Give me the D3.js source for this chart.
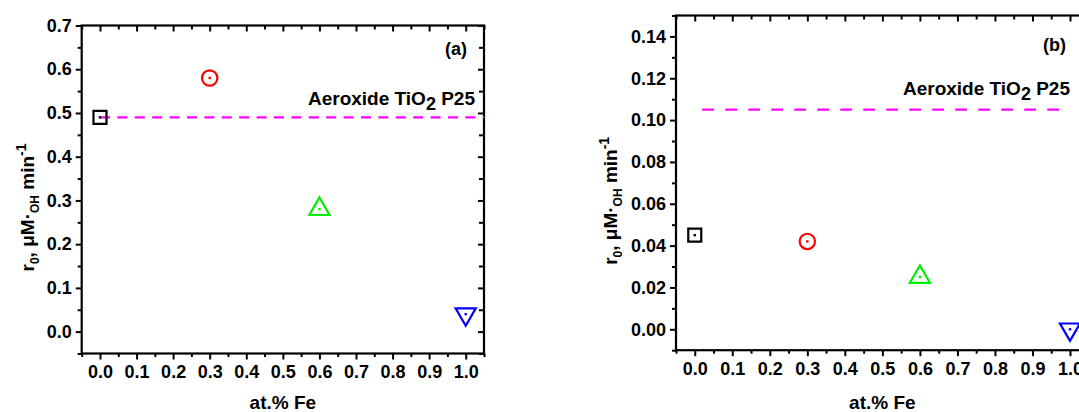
<!DOCTYPE html>
<html>
<head>
<meta charset="utf-8">
<script src="https://cdn.jsdelivr.net/npm/d3@7"></script>
<style>
  html, body { margin: 0; padding: 0; background: #fff; }
  svg { display: block; }
  text { font-family: "Liberation Sans", Arial, Helvetica, sans-serif; font-weight: bold; fill: #000; }
</style>
</head>
<body>
<svg id="chart" width="1079" height="412"></svg>
<script>
// ---------------- data ----------------
const feContent = [0.0, 0.3, 0.6, 1.0];           // at.% Fe
const r0PanelA = [0.49, 0.58, 0.28, 0.04];        // panel (a)
const r0PanelB = [0.045, 0.042, 0.025, 0.0];      // panel (b)
const p25PanelA = 0.49;                           // Aeroxide TiO2 P25 reference, (a)
const p25PanelB = 0.105;                          // Aeroxide TiO2 P25 reference, (b)
const xTickValues = [0.0, 0.1, 0.2, 0.3, 0.4, 0.5, 0.6, 0.7, 0.8, 0.9, 1.0];
const yTicksA = [0.0, 0.1, 0.2, 0.3, 0.4, 0.5, 0.6, 0.7];
const yTicksB = [0.00, 0.02, 0.04, 0.06, 0.08, 0.10, 0.12, 0.14];
const markerShapes = ["square", "circle", "triangle", "triangleDown"];
const markerColors = ["#000000", "#ff0000", "#00ee00", "#0000ff"];
const refLineColor = "#ff00ff";

const svg = d3.select("#chart");

const panels = [
  {
    label: "(a)", values: r0PanelA, ref: p25PanelA, refSpan: [0.0, 1.05],
    xDomain: [-0.05, 1.05], xRange: [81.7, 484],
    yDomain: [-0.05, 0.7], yRange: [353.5, 25.5],
    yTicks: yTicksA, yMinorStep: 0.05, yFmt: d3.format(".1f"),
    dash: "10,7.4", refTextRight: 475, refTextDy: -12, panelLabelRight: 467, panelLabelBase: 55,
    yTitleX: 34
  },
  {
    label: "(b)", values: r0PanelB, ref: p25PanelB, refSpan: [0.02, 0.98],
    xDomain: [-0.05, 1.05], xRange: [676, 1088.75],
    yDomain: [-0.01, 0.15], yRange: [350.2, 15.5],
    yTicks: yTicksB, yMinorStep: 0.01, yFmt: d3.format(".2f"),
    dash: "11.7,11.3", refTextRight: 1070, refTextDy: -15, panelLabelRight: 1066, panelLabelBase: 51,
    yTitleX: 617
  }
];

function minorTicks(domain, step) {
  const out = [];
  const n0 = Math.ceil(domain[0] / step - 1e-9), n1 = Math.floor(domain[1] / step + 1e-9);
  for (let i = n0; i <= n1; i++) out.push(+(i * step).toFixed(6));
  return out;
}

panels.forEach(p => {
  const x = d3.scaleLinear().domain(p.xDomain).range(p.xRange);
  const y = d3.scaleLinear().domain(p.yDomain).range(p.yRange);
  const g = svg.append("g");
  const x0 = p.xRange[0], x1 = p.xRange[1], yb = p.yRange[0], yt = p.yRange[1];

  const xMinor = minorTicks(p.xDomain, 0.05).filter(v => !xTickValues.some(t => Math.abs(t - v) < 1e-6));
  const yMinor = minorTicks(p.yDomain, p.yMinorStep).filter(v => !p.yTicks.some(t => Math.abs(t - v) < 1e-6));

  const styleAxis = sel => {
    sel.select(".domain").remove();
    sel.selectAll("line").attr("stroke", "#000").attr("stroke-width", 2);
    sel.selectAll("text").style("font-size", "18px").style("font-family", "'Liberation Sans', Arial, sans-serif").style("font-weight", "bold").attr("fill", "#000");
  };

  // bottom axis (labels, outward ticks)
  g.append("g").attr("transform", `translate(0,${yb})`)
    .call(d3.axisBottom(x).tickValues(xTickValues).tickFormat(d3.format(".1f")).tickSize(6).tickPadding(6))
    .call(styleAxis);
  g.append("g").attr("transform", `translate(0,${yb})`)
    .call(d3.axisBottom(x).tickValues(xMinor).tickFormat("").tickSize(3.5))
    .call(styleAxis);
  // top axis (inward ticks)
  g.append("g").attr("transform", `translate(0,${yt})`)
    .call(d3.axisTop(x).tickValues(xTickValues).tickFormat("").tickSize(-6))
    .call(styleAxis);
  g.append("g").attr("transform", `translate(0,${yt})`)
    .call(d3.axisTop(x).tickValues(xMinor).tickFormat("").tickSize(-4))
    .call(styleAxis);
  // left axis (labels, outward ticks)
  g.append("g").attr("transform", `translate(${x0},0)`)
    .call(d3.axisLeft(y).tickValues(p.yTicks).tickFormat(p.yFmt).tickSize(6).tickPadding(4))
    .call(styleAxis);
  g.append("g").attr("transform", `translate(${x0},0)`)
    .call(d3.axisLeft(y).tickValues(yMinor).tickFormat("").tickSize(4))
    .call(styleAxis);
  // right axis (inward ticks)
  g.append("g").attr("transform", `translate(${x1},0)`)
    .call(d3.axisRight(y).tickValues(p.yTicks).tickFormat("").tickSize(-6))
    .call(styleAxis);
  g.append("g").attr("transform", `translate(${x1},0)`)
    .call(d3.axisRight(y).tickValues(yMinor).tickFormat("").tickSize(-5))
    .call(styleAxis);

  // frame
  g.append("rect").attr("x", x0).attr("y", yt).attr("width", x1 - x0).attr("height", yb - yt)
    .attr("fill", "none").attr("stroke", "#000").attr("stroke-width", 2.2);

  // reference line
  g.append("line")
    .attr("x1", x(p.refSpan[0])).attr("x2", x(p.refSpan[1]))
    .attr("y1", y(p.ref)).attr("y2", y(p.ref))
    .attr("stroke", refLineColor).attr("stroke-width", 2.4).attr("stroke-dasharray", p.dash);

  // reference label
  const rt = g.append("text").attr("x", p.refTextRight).attr("y", y(p.ref) + p.refTextDy)
    .attr("text-anchor", "end").style("font-size", "19px");
  rt.append("tspan").text("Aeroxide TiO");
  rt.append("tspan").text("2").attr("dy", 5).style("font-size", "18px");
  rt.append("tspan").text(" P25").attr("dy", -5);

  // panel label
  g.append("text").attr("x", p.panelLabelRight).attr("y", p.panelLabelBase)
    .attr("text-anchor", "end").style("font-size", "18px").text(p.label);

  // markers
  const symType = { square: d3.symbolSquare, circle: d3.symbolCircle, triangle: d3.symbolTriangle, triangleDown: d3.symbolTriangle };
  const symSize = { square: 169, circle: 185, triangle: 175, triangleDown: 175 };
  const pts = feContent.map((fe, i) => ({ fe, v: p.values[i], shape: markerShapes[i], color: markerColors[i] }));
  const mg = g.selectAll("g.pt").data(pts).join("g").attr("class", "pt")
    .attr("transform", d => `translate(${x(d.fe)},${y(d.v)})`);
  mg.append("path")
    .attr("d", d => d3.symbol().type(symType[d.shape]).size(symSize[d.shape])())
    .attr("transform", d => d.shape === "triangleDown" ? "rotate(180)" : null)
    .attr("fill", "none").attr("stroke", d => d.color).attr("stroke-width", 2.2);
  mg.append("rect").attr("x", -1.2).attr("y", -1.2).attr("width", 2.4).attr("height", 2.4)
    .attr("fill", d => d.color);

  // x title
  g.append("text").attr("x", (x0 + x1) / 2).attr("y", 409).attr("text-anchor", "middle")
    .style("font-size", "19px").text("at.% Fe");

  // y title
  const cy = (yt + yb) / 2 + 18;
  const yt2 = g.append("text").attr("transform", `translate(${p.yTitleX},${cy}) rotate(-90)`)
    .attr("text-anchor", "middle").style("font-size", "19px");
  yt2.append("tspan").text("r");
  yt2.append("tspan").text("0").attr("dy", 5).style("font-size", "12px");
  yt2.append("tspan").text(", μM·").attr("dy", -5);
  yt2.append("tspan").text("OH").attr("dy", 5).style("font-size", "12px");
  yt2.append("tspan").text(" min").attr("dy", -5);
  yt2.append("tspan").text("-1").attr("dy", -8).style("font-size", "14px");
});
</script>
</body>
</html>
